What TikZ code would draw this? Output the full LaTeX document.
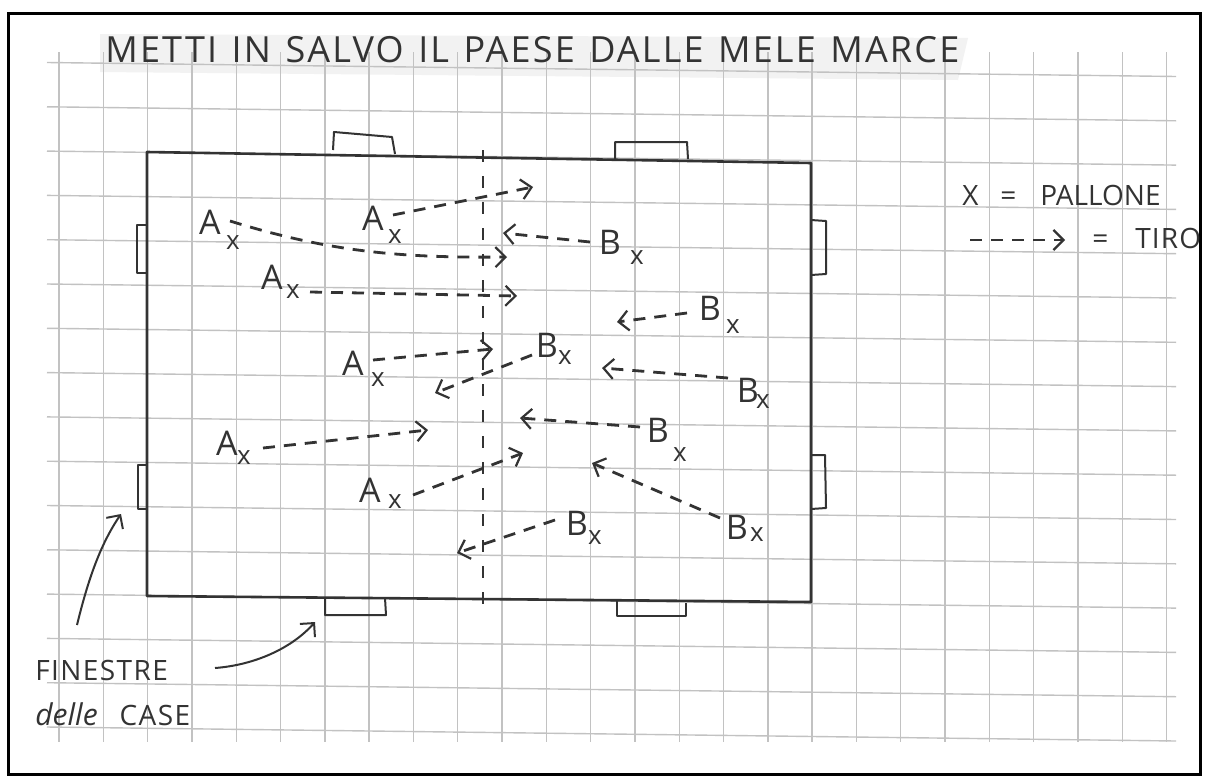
\documentclass[tikz,border=0pt]{standalone}
\usepackage{fontspec}
\setmainfont{Open Sans}
\usetikzlibrary{arrows.meta}
\definecolor{ink}{HTML}{333333}
\definecolor{gridc}{HTML}{C2C2C2}
\newcommand{\wgap}{\ \hspace{1.5pt}}
\begin{document}
\begin{tikzpicture}[x=0.5pt,y=-0.5pt,
  gridline/.style={draw=gridc,line width=0.7pt},
  field/.style={draw=ink,line width=1.3pt,line join=round},
  win/.style={draw=ink,line width=1pt,line join=round},
  shot/.style={draw=ink,line width=1.4pt,dash pattern=on 6pt off 4.5pt,
    -{Straight Barb[length=5pt,width=10pt,line width=1.1pt]}},
  midline/.style={draw=ink,line width=1pt,dash pattern=on 6pt off 7pt},
  pointer/.style={draw=ink,line width=1pt,
    -{Straight Barb[length=5pt,width=10pt,line width=1pt]}},
  lab/.style={text=ink,font=\fontsize{17}{19}\selectfont,inner sep=0pt},
  ball/.style={text=ink,font=\fontsize{13}{15}\selectfont,inner sep=0pt},
  txt/.style={text=ink,font=\fontsize{14}{16}\selectfont,inner sep=0pt},
]
\useasboundingbox (0,0) rectangle (1208,776);
\fill[white] (0,0) rectangle (1208,776);
% title band
\fill[black!5] (100,34) -- (968,38) -- (958,80) -- (100,72) -- cycle;
% grid
\foreach \k in {0,...,15}
  \draw[gridline] (47,{62.5+44.3*\k}) -- (1176,{76.5+44.3*\k});
\foreach \j in {0,...,25}
  \draw[gridline] ({59+44.3*\j},52) -- ({59+44.3*\j},742);
% outer frame
\draw[line width=1.5pt] (8,13) rectangle (1200,774);
% title
\node[text=ink,font=\fontsize{18}{20}\selectfont,inner sep=0pt,anchor=base west] (title) at (105,62)
  {\addfontfeatures{LetterSpace=6}METTI\wgap IN\wgap SALVO\wgap IL\wgap PAESE\wgap DALLE\wgap MELE\wgap MARCE};
% field
\coordinate (tl) at (147,152);
\coordinate (tr) at (811,163);
\coordinate (br) at (811,602);
\coordinate (bl) at (147,596);
\draw[field] (tl) -- (tr) -- (br) -- (bl) -- cycle;
% windows
\draw[win] (333,150) -- (334,132) -- (392,137) -- (395,154);
\draw[win] (615,160) -- (615,142) -- (687,142) -- (688,159);
\draw[win] (147,225) -- (137,225) -- (137,273) -- (147,273);
\draw[win] (147,465) -- (138,465) -- (138,509) -- (147,509);
\draw[win] (811,220) -- (826,221) -- (826,274) -- (811,275);
\draw[win] (811,455) -- (825,455) -- (826,508) -- (811,509);
\draw[win] (325,597) -- (325,615) -- (386,615) -- (385,598);
\draw[win] (617,601) -- (617,616) -- (686,616) -- (686,603);
% midline
\coordinate (mtop) at (483,150);
\coordinate (mbot) at (483,616);
\draw[midline] (mtop) -- (mbot);
% team A
\node[lab] (A1) at (210,222) {A}; \node[ball] (a1) at (233,243) {x};
\node[lab] (A2) at (373,218) {A}; \node[ball] (a2) at (395,237) {x};
\node[lab] (A3) at (272,277) {A}; \node[ball] (a3) at (293,292) {x};
\node[lab] (A4) at (353,363) {A}; \node[ball] (a4) at (378,380) {x};
\node[lab] (A5) at (227,443) {A}; \node[ball] (a5) at (244,458) {x};
\node[lab] (A6) at (370,490) {A}; \node[ball] (a6) at (395,502) {x};
% team B
\node[lab] (B1) at (610,242) {B}; \node[ball] (b1) at (637,258) {x};
\node[lab] (B2) at (710,308) {B}; \node[ball] (b2) at (733,327) {x};
\node[lab] (B3) at (547,345) {B}; \node[ball] (b3) at (565,358) {x};
\node[lab] (B4) at (748,390) {B}; \node[ball] (b4) at (763,402) {x};
\node[lab] (B5) at (658,430) {B}; \node[ball] (b5) at (680,455) {x};
\node[lab] (B6) at (737,527) {B}; \node[ball] (b6) at (757,535) {x};
\node[lab] (B7) at (577,523) {B}; \node[ball] (b7) at (595,538) {x};
% shot endpoints
\coordinate (sA1) at (230,221); \coordinate (eA1) at (507,257);
\coordinate (sA2) at (393,215); \coordinate (eA2) at (533,187);
\coordinate (sA3) at (310,292); \coordinate (eA3) at (517,296);
\coordinate (sA4) at (373,360); \coordinate (eA4) at (493,349);
\coordinate (sA5) at (263,448); \coordinate (eA5) at (428,430);
\coordinate (sA6) at (413,495); \coordinate (eA6) at (523,453);
\coordinate (sB1) at (590,242); \coordinate (eB1) at (503,233);
\coordinate (sB2) at (687,313); \coordinate (eB2) at (617,322);
\coordinate (sB3) at (532,355); \coordinate (eB3) at (435,393);
\coordinate (sB4) at (728,378); \coordinate (eB4) at (602,368);
\coordinate (sB5) at (640,427); \coordinate (eB5) at (520,418);
\coordinate (sB6) at (720,518); \coordinate (eB6) at (592,463);
\coordinate (sB7) at (555,520); \coordinate (eB7) at (457,553);
\draw[shot] (sA1) .. controls (330,252) and (400,258) .. (eA1);
\draw[shot] (sA2) -- (eA2);
\draw[shot] (sA3) -- (eA3);
\draw[shot] (sA4) -- (eA4);
\draw[shot] (sA5) -- (eA5);
\draw[shot] (sA6) -- (eA6);
\draw[shot] (sB1) -- (eB1);
\draw[shot] (sB2) -- (eB2);
\draw[shot] (sB3) -- (eB3);
\draw[shot] (sB4) -- (eB4);
\draw[shot] (sB5) -- (eB5);
\draw[shot] (sB6) -- (eB6);
\draw[shot] (sB7) -- (eB7);
% legend
\node[txt,anchor=base west] (lx) at (962,205) {X};
\node[txt,anchor=base west] (leq1) at (1000,205) {=};
\node[txt,anchor=base west] (lpall) at (1040,205) {PALLONE};
\coordinate (ls) at (970,240); \coordinate (le) at (1065,240);
\draw[shot] (ls) -- (le);
\node[txt,anchor=base west] (leq2) at (1092,248) {=};
\node[txt,anchor=base west] (ltiro) at (1135,248) {\addfontfeatures{LetterSpace=4}TIRO};
% finestre note
\node[txt,anchor=base west] (fin) at (35,680) {\addfontfeatures{LetterSpace=5}FINESTRE};
\node[txt,anchor=base west] (delle) at (35,725) {{\itshape\fontsize{15}{17}\selectfont delle}\ \ \ {\addfontfeatures{LetterSpace=5}CASE}};
\coordinate (p1s) at (77,625); \coordinate (p1e) at (121,514);
\coordinate (p2s) at (215,668); \coordinate (p2e) at (315,622);
\draw[pointer] (p1s) .. controls (88,580) and (100,545) .. (p1e);
\draw[pointer] (p2s) .. controls (255,665) and (292,648) .. (p2e);
\end{tikzpicture}
\end{document}
